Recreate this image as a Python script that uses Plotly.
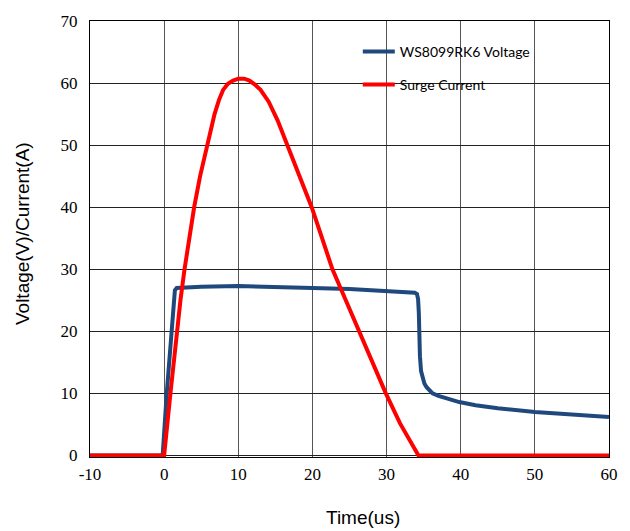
import plotly.graph_objects as go

# Voltage series (time in us, volts)
volt_t = [-10, -0.2, 0.35, 1.0, 1.3, 1.45, 1.7, 3, 5, 10, 15, 20, 25, 30, 33.8, 34.1,
          34.25, 34.35, 34.4, 34.5, 34.65, 34.85, 35.1, 35.4, 35.8, 36.2, 37, 38, 39.8,
          42, 45, 50, 55, 60]
volt_v = [0, 0, 10, 20, 25.5, 26.6, 27.0, 27.1, 27.2, 27.3, 27.2, 27.0, 26.8, 26.4, 26.2, 26.0,
          25.2, 23, 20, 16, 13.6, 12.4, 11.6, 11.0, 10.4, 10.0, 9.6, 9.2, 8.6,
          8.1, 7.6, 7.0, 6.6, 6.2]

# Surge current series (time in us, amps)
curr_t = [-10, 0, 0.85, 1.7, 2.2, 2.75, 3.4, 4.05, 4.85, 5.8, 6.8, 7.4, 7.95, 8.6, 9.3,
          10.0, 10.8, 11.5, 12.2, 13.0, 14.1, 15.3, 16.6, 18.3, 19.9, 21.3, 22.7, 24.5,
          26.3, 28.1, 29.9, 31.8, 33.2, 34.3, 60]
curr_i = [0, 0, 10, 20, 25, 30, 35, 40, 45, 50, 55, 57.3, 58.9, 59.9, 60.4,
          60.7, 60.7, 60.4, 59.8, 58.9, 57, 54, 50, 45, 40, 35, 30, 25,
          20, 15, 10, 5.2, 2.2, 0, 0]

x_ticks = [-10, 0, 10, 20, 30, 40, 50, 60]
y_ticks = [0, 10, 20, 30, 40, 50, 60, 70]

fig = go.Figure()
fig.add_trace(go.Scatter(x=volt_t, y=volt_v, mode="lines", name="WS8099RK6 Voltage",
                         line=dict(color="#1F497D", width=4),
                         legendgroup="a"))
fig.add_trace(go.Scatter(x=curr_t, y=curr_i, mode="lines", name="Surge Current",
                         line=dict(color="#FF0000", width=4),
                         legendgroup="b"))

fig.update_layout(
    width=630, height=531,
    margin=dict(l=90, r=21, t=17, b=74),
    paper_bgcolor="white", plot_bgcolor="white",
    showlegend=True,
    legend=dict(x=0.516, y=0.966, xanchor="left", yanchor="top",
                bgcolor="rgba(0,0,0,0)", font=dict(family="Lato", size=14, color="black"),
                tracegroupgap=12, traceorder="grouped", itemwidth=32),
    xaxis=dict(range=[-10, 60], tickvals=x_ticks, ticktext=[str(v) for v in x_ticks],
               showgrid=True, gridcolor="#555555", gridwidth=1,
               showline=True, linecolor="black", linewidth=1, mirror=True,
               zeroline=False, ticks="", ticklabelstandoff=2,
               tickfont=dict(family="Liberation Serif", size=17, color="black")),
    yaxis=dict(range=[-0.25, 70], tickvals=y_ticks, ticktext=[str(v) for v in y_ticks],
               showgrid=True, gridcolor="#222222", gridwidth=1,
               showline=True, linecolor="black", linewidth=1, mirror=True,
               zeroline=False, ticks="", ticklabelstandoff=8,
               tickfont=dict(family="Liberation Serif", size=17, color="black")),
    annotations=[
        dict(text="Time(us)", xref="paper", yref="paper", x=(363 - 90) / 519, y=-(518 - 457) / 440,
             xanchor="center", yanchor="middle", showarrow=False,
             font=dict(family="Liberation Sans", size=19, color="black")),
        dict(text="Voltage(V)/Current(A)", xref="paper", yref="paper", x=-(90 - 22) / 519,
             y=(457 - 232) / 440, xanchor="center", yanchor="middle", showarrow=False,
             textangle=-90, font=dict(family="Liberation Sans", size=19, color="black")),
    ],
)

fig.write_html("out.html")
